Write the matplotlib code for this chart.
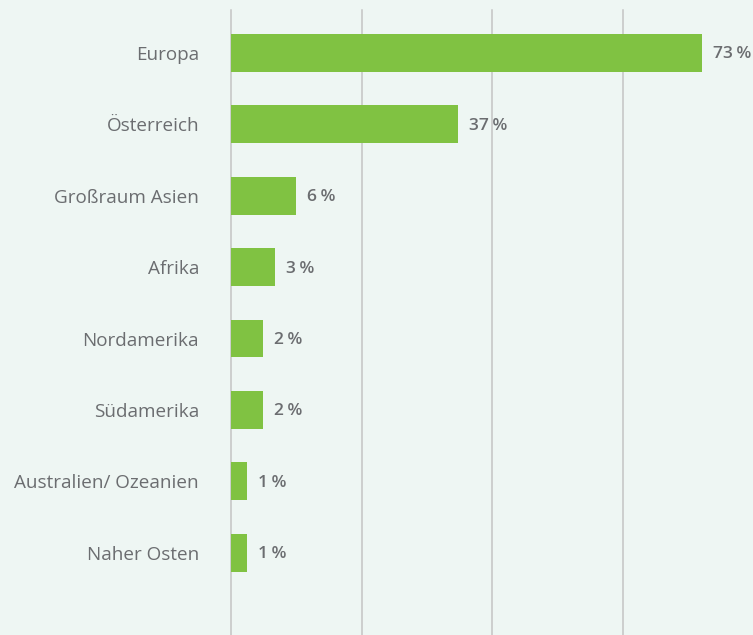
import matplotlib.pyplot as plt

# Datos
regiones = ['Europa', 'Österreich', 'Großraum Asien', 'Afrika', 'Nordamerika',
            'Südamerika', 'Australien/ Ozeanien', 'Naher Osten']
# longitud de las barras (escala 0-80)
valores = [72.2, 34.8, 10.0, 6.7, 4.9, 4.9, 2.45, 2.45]
etiquetas = ['73\u2009%', '37\u2009%', '6\u2009%', '3\u2009%', '2\u2009%', '2\u2009%', '1\u2009%', '1\u2009%']

fondo = '#eef6f3'
verde = '#80c242'
gris_texto = '#6b6d70'

plt.rcParams['font.family'] = ['Open Sans', 'DejaVu Sans']

fig = plt.figure(figsize=(7.53, 6.35), dpi=100, facecolor=fondo)
ax = fig.add_axes([231 / 753, 0, 522 / 753, 625 / 635], facecolor=fondo)

pos = range(len(regiones))
ax.barh(pos, valores, height=0.53, color=verde, zorder=2)

for i, (v, txt) in enumerate(zip(valores, etiquetas)):
    ax.annotate(txt, (v, i), xytext=(11, -1.5), textcoords='offset pixels',
                ha='left', va='center', fontsize=12.5, fontweight='semibold',
                color=gris_texto)

ax.set_xlim(0, 80)
ax.set_ylim(8.15, -0.6)
ax.set_xticks([0, 20, 40, 60])
ax.set_xticklabels([])
ax.grid(axis='x', color='#c4c4c4', linewidth=1.1, zorder=0)
for linea in ax.get_xgridlines():
    linea.set_clip_on(False)
ax.set_yticks(list(pos))
ax.set_yticklabels(regiones, fontsize=13.6, color=gris_texto)
ax.tick_params(axis='y', length=0, pad=23)
ax.tick_params(axis='x', length=0)
for s in ax.spines.values():
    s.set_visible(False)

plt.savefig('out.png', dpi=100, facecolor=fondo)
